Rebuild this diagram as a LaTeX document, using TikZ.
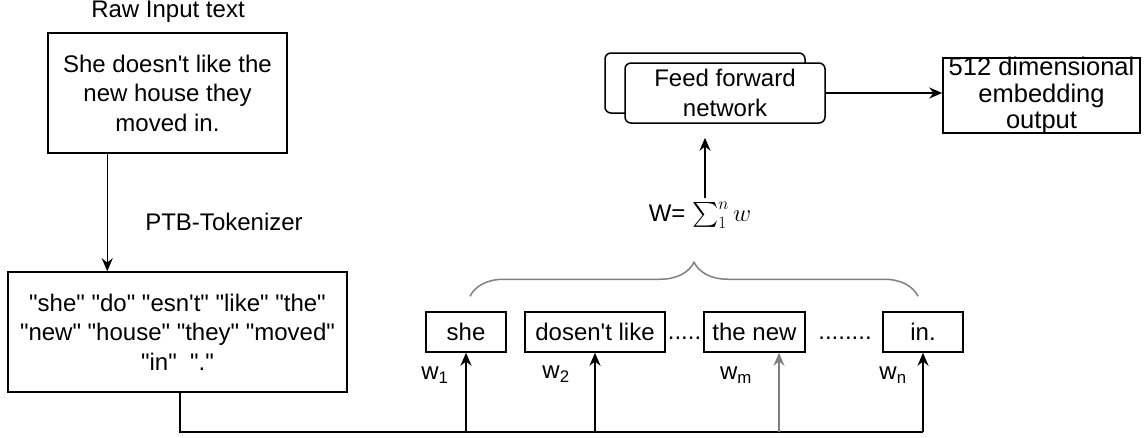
\documentclass[tikz,border=0pt]{standalone}
\usepackage{exscale}
\usepackage{fontspec}
\setmainfont{Liberation Sans}[Ligatures=TeXOff]
\usetikzlibrary{arrows.meta,decorations.pathreplacing}

\begin{document}
\begin{tikzpicture}[x=1pt,y=-1pt,line width=1.5pt,
        font=\fontsize{24}{29.5}\selectfont,
        box/.style={draw,align=center,inner sep=0pt},
        wordbox/.style={box,minimum height=40pt},
        arr/.style={-{Stealth[length=13pt,width=11pt]}}]
        \useasboundingbox (0,0) rectangle (1146,437);
        % sentence and tokenizer output
        \node (rawlbl) at (168,12) {Raw Input text};
        \node[box,minimum width=239pt,minimum height=120pt] (raw) at (167.5,93) {She doesn't like the\\new house they\\moved in.};
        \node (ptblbl) at (224,222) {PTB-Tokenizer};
        \node[box,minimum width=339pt,minimum height=120pt] (tok) at (177.5,332) {"she" "do" "esn't" "like" "the"\\"new" "house" "they" "moved"\\"in"~~"."};
        \draw[arr] ([xshift=60pt]raw.south west) -- ([xshift=100pt]tok.north west);
        % word groups
        \node[wordbox,minimum width=80pt] (w1) at (466,332) {she};
        \node[wordbox,minimum width=140pt] (w2) at (595,332) {dosen't like};
        \node[wordbox,minimum width=101pt] (w3) at (754.5,332) {the new};
        \node[wordbox,minimum width=80pt] (w4) at (923,332) {in.};
        \node (dots1) at (684.5,338) {.....};
        \node (dots2) at (845,338) {........};
        \node (l1) at (435,375) {w\textsubscript{1}};
        \node (l2) at (556,374) {w\textsubscript{2}};
        \node (l3) at (736,375) {w\textsubscript{m}};
        \node (l4) at (893,375) {w\textsubscript{n}};
        % bus from the tokens to the words
        \coordinate (bus) at (0,432);
        \coordinate (w3in) at ([xshift=24.5pt]w3.south);
        \draw ([xshift=2.5pt]tok.south) |- (bus -| w4.south);
        \foreach \w in {w1,w2,w4}
            \draw[arr] (bus -| \w.south) -- (\w.south);
        \draw[arr,gray] (bus -| w3in) -- (w3in);
        \draw[gray,decorate,decoration={brace,amplitude=34pt}]
            ([xshift=4pt,yshift=15pt]w1.north) -- ([xshift=-5pt,yshift=15pt]w4.north);
        % sum into the network
        \node (wsum) at (700,215) {W= $\sum_1^n w$};
        \node[box,rounded corners=6pt,minimum width=200pt,minimum height=60pt] (ffnback) at (705,83) {};
        \node[box,fill=white,rounded corners=6pt,minimum width=200pt,minimum height=60pt] (ffn) at (725,93) {Feed forward\\network};
        \draw[arr] (wsum.north -| ffnback.south) -- ([yshift=-24pt]ffnback.south);
        \node[draw,minimum width=197pt,minimum height=75pt] (out) at (1041.5,95.5) {};
        \node[align=center,font=\fontsize{25.5}{26.5}\selectfont] (outtxt) at (out.center) {512 dimensional\\embedding\\output};
        \draw[arr] (ffn.east) -- (ffn.east -| out.west);
\end{tikzpicture}
\end{document}
